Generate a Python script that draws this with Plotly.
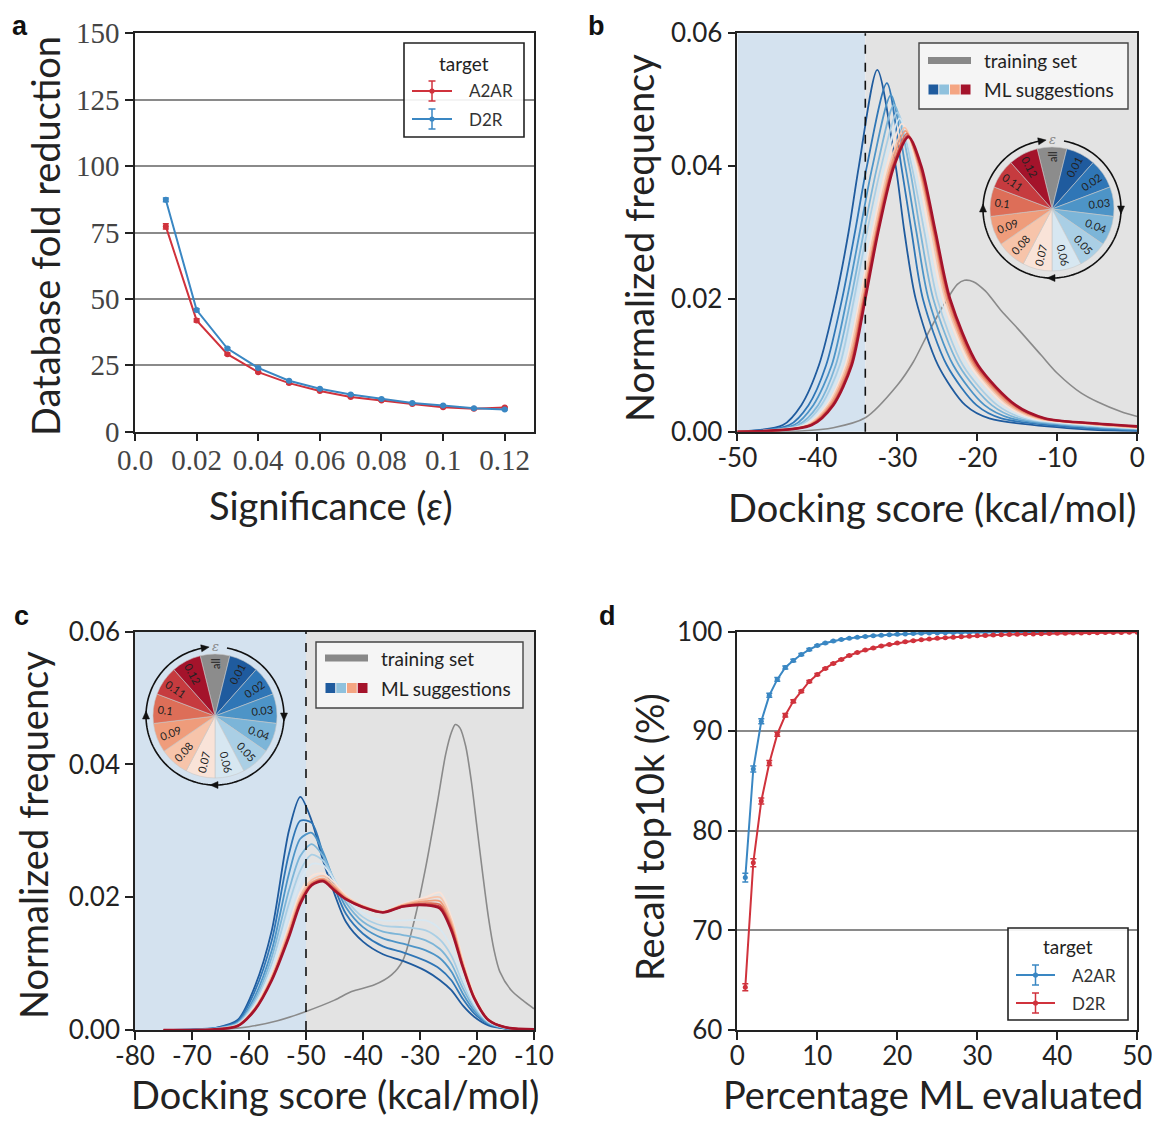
import numpy as np
import plotly.graph_objects as go

W, H = 1152, 1122

# ---------------- Panel a data ----------------
significance = [0.01, 0.02, 0.03, 0.04, 0.05, 0.06, 0.07, 0.08, 0.09, 0.10, 0.11, 0.12]
a2ar_fold = [77.3, 41.9, 29.2, 22.4, 18.3, 15.3, 13.1, 11.7, 10.4, 9.2, 8.6, 9.1]
a2ar_fold_err = [1.0, 0.6, 0.4, 0.3, 0.3, 0.2, 0.2, 0.2, 0.2, 0.2, 0.2, 0.2]
d2r_fold = [87.3, 45.8, 31.3, 24.0, 19.2, 16.2, 14.0, 12.3, 10.8, 9.9, 8.8, 8.4]
d2r_fold_err = [0.7, 0.5, 0.4, 0.3, 0.3, 0.2, 0.2, 0.2, 0.2, 0.2, 0.2, 0.2]
sig_tickvals = [0, 0.02, 0.04, 0.06, 0.08, 0.10, 0.12]
sig_ticktext = ["0.0", "0.02", "0.04", "0.06", "0.08", "0.1", "0.12"]
fold_ticks = [0, 25, 50, 75, 100, 125, 150]

# ---------------- Panel b data (A2AR score distributions) ----------------
eps_labels = ["0.01", "0.02", "0.03", "0.04", "0.05", "0.06",
              "0.07", "0.08", "0.09", "0.1", "0.11", "0.12"]
eps_colors = ["#1f5b9e", "#2f76b6", "#4d94c7", "#7cb5d8", "#aacfe5", "#d7e7f1",
              "#f9e3d8", "#f7c4aa", "#ef9c7b", "#dd6e58", "#c63b3f", "#a4132b"]
# x positions where each curve crosses fixed frequency levels (left flank / right flank)
b_left_001 = [-44.3, -43.5, -42.9, -42.4, -42.0, -41.7, -41.4, -41.2, -41.0, -40.9, -40.8, -40.7]
b_left_004 = [-42.0, -41.1, -40.5, -39.9, -39.5, -39.1, -38.8, -38.6, -38.4, -38.2, -38.1, -38.0]
b_left_010 = [-39.8, -38.9, -38.2, -37.7, -37.2, -36.9, -36.5, -36.3, -36.1, -35.9, -35.8, -35.7]
b_left_020 = [-37.7, -36.9, -36.3, -35.8, -35.4, -35.0, -34.7, -34.5, -34.3, -34.2, -34.1, -34.0]
b_left_030 = [-36.1, -35.3, -34.7, -34.2, -33.8, -33.4, -33.1, -32.9, -32.7, -32.6, -32.5, -32.4]
b_left_040 = [-34.8, -33.8, -33.1, -32.5, -32.0, -31.6, -31.3, -31.0, -30.8, -30.6, -30.5, -30.4]
b_peak_x = [-32.5, -31.3, -30.8, -30.4, -30.0, -29.7, -29.4, -29.1, -29.0, -28.8, -28.7, -28.6]
b_peak_y = [0.0545, 0.0525, 0.0507, 0.0492, 0.0481, 0.0472, 0.0464, 0.0458, 0.0453, 0.0449, 0.0446, 0.0444]
b_right_040 = [-30.2, -29.5, -29.0, -28.5, -28.2, -27.9, -27.6, -27.4, -27.3, -27.2, -27.1, -27.0]
b_right_030 = [-29.1, -28.2, -27.6, -27.1, -26.6, -26.3, -26.0, -25.7, -25.5, -25.4, -25.3, -25.2]
b_right_020 = [-27.7, -26.8, -26.1, -25.5, -25.0, -24.6, -24.3, -24.0, -23.8, -23.6, -23.5, -23.4]
b_right_010 = [-24.9, -23.8, -23.0, -22.3, -21.8, -21.3, -20.9, -20.6, -20.4, -20.2, -20.0, -19.9]
b_right_004 = [-21.5, -20.1, -19.1, -18.2, -17.5, -17.0, -16.5, -16.1, -15.8, -15.5, -15.3, -15.2]
b_right_002 = [-18.5, -17.0, -15.8, -14.9, -14.1, -13.5, -12.9, -12.5, -12.1, -11.9, -11.6, -11.5]
b_tail_m6 = [0.0003, 0.0005, 0.0007, 0.0008, 0.0009, 0.0010, 0.0011, 0.0012, 0.0012, 0.0013, 0.0013, 0.0013]
b_tail_0 = [0.0001, 0.0002, 0.0003, 0.0004, 0.0005, 0.0005, 0.0006, 0.0006, 0.0007, 0.0007, 0.0008, 0.0008]
b_train_x = [-50, -46, -42, -38, -34, -30, -28, -26, -24, -22.5, -21.6, -20.5, -19, -17, -15, -12, -10, -7, -5, -2, 0]
b_train_y = [0, 0, 0.0001, 0.0006, 0.0021, 0.0070, 0.0105, 0.0152, 0.0195, 0.0222, 0.0228, 0.0226,
             0.0212, 0.0182, 0.0156, 0.0115, 0.0088, 0.0058, 0.0045, 0.0030, 0.0023]
b_threshold = -34

# ---------------- Panel c data (D2R score distributions) ----------------
c_x = [-75, -66, -62, -59, -56, -53, -51, -49, -47, -45, -43, -40, -36.5, -33, -29, -26.5,
       -24.5, -22.5, -20.5, -18, -15, -10]
c_eps_001 = [0, 0.0003, 0.0015, 0.0065, 0.0150, 0.0300, 0.0351, 0.0315, 0.0255, 0.0205, 0.0163, 0.0133, 0.0114, 0.0104, 0.0089, 0.0075, 0.0060, 0.0037, 0.0020, 0.0007, 0.0002, 0.0]
c_eps_002 = [0, 0.0003, 0.0013, 0.0058, 0.0135, 0.0265, 0.0315, 0.0312, 0.0265, 0.0215, 0.0175, 0.0145, 0.0126, 0.0117, 0.0104, 0.0092, 0.0075, 0.0047, 0.0025, 0.0009, 0.0002, 0.0]
c_eps_003 = [0, 0.0002, 0.0011, 0.0050, 0.0120, 0.0235, 0.0288, 0.0297, 0.0268, 0.0222, 0.0185, 0.0155, 0.0138, 0.0130, 0.0120, 0.0108, 0.0088, 0.0055, 0.0029, 0.0010, 0.0003, 0.0]
c_eps_004 = [0, 0.0002, 0.0010, 0.0045, 0.0110, 0.0210, 0.0262, 0.0280, 0.0262, 0.0225, 0.0192, 0.0163, 0.0148, 0.0143, 0.0135, 0.0122, 0.0100, 0.0063, 0.0033, 0.0011, 0.0003, 0.0]
c_eps_005 = [0, 0.0002, 0.0009, 0.0041, 0.0100, 0.0190, 0.0240, 0.0264, 0.0255, 0.0226, 0.0197, 0.0170, 0.0157, 0.0155, 0.0150, 0.0136, 0.0112, 0.0071, 0.0037, 0.0012, 0.0003, 0.0]
c_eps_006 = [0, 0.0001, 0.0008, 0.0037, 0.0092, 0.0175, 0.0225, 0.0250, 0.0248, 0.0225, 0.0200, 0.0176, 0.0165, 0.0165, 0.0165, 0.0152, 0.0124, 0.0078, 0.0040, 0.0013, 0.0004, 0.0]
c_eps_007 = [0, 0.0001, 0.0007, 0.0034, 0.0084, 0.0158, 0.0208, 0.0232, 0.0236, 0.0222, 0.0203, 0.0186, 0.0178, 0.0190, 0.0200, 0.0207, 0.0170, 0.0107, 0.0053, 0.0016, 0.0004, 0.0001]
c_eps_008 = [0, 0.0001, 0.0007, 0.0033, 0.0081, 0.0152, 0.0202, 0.0226, 0.0232, 0.0218, 0.0201, 0.0187, 0.0178, 0.0189, 0.0197, 0.0200, 0.0165, 0.0103, 0.0051, 0.0016, 0.0004, 0.0001]
c_eps_009 = [0, 0.0001, 0.0007, 0.0032, 0.0079, 0.0147, 0.0197, 0.0222, 0.0228, 0.0215, 0.0199, 0.0186, 0.0178, 0.0188, 0.0194, 0.0194, 0.0160, 0.0100, 0.0050, 0.0016, 0.0004, 0.0001]
c_eps_010 = [0, 0.0001, 0.0006, 0.0031, 0.0077, 0.0144, 0.0194, 0.0220, 0.0226, 0.0213, 0.0198, 0.0186, 0.0178, 0.0187, 0.0191, 0.0189, 0.0156, 0.0098, 0.0049, 0.0015, 0.0004, 0.0001]
c_eps_011 = [0, 0.0001, 0.0006, 0.0030, 0.0076, 0.0142, 0.0192, 0.0219, 0.0225, 0.0211, 0.0197, 0.0185, 0.0177, 0.0186, 0.0189, 0.0186, 0.0153, 0.0096, 0.0048, 0.0015, 0.0004, 0.0001]
c_eps_012 = [0, 0.0001, 0.0006, 0.0030, 0.0075, 0.0140, 0.0190, 0.0218, 0.0224, 0.0210, 0.0197, 0.0185, 0.0177, 0.0186, 0.0188, 0.0183, 0.0150, 0.0095, 0.0048, 0.0015, 0.0004, 0.0001]
c_train_x = [-75, -65, -60, -55, -50, -45, -42, -38, -35, -33, -31, -29, -27, -25.5, -24.5, -23.8,
             -23, -22, -21, -20, -19, -18, -17, -16, -14, -12, -10]
c_train_y = [0, 0.0001, 0.0005, 0.0014, 0.0028, 0.0045, 0.0058, 0.0068, 0.0083, 0.0105, 0.0165,
             0.0245, 0.0340, 0.0415, 0.0448, 0.0460, 0.0455, 0.0428, 0.0375, 0.0305, 0.0235,
             0.0170, 0.0120, 0.0088, 0.0060, 0.0045, 0.0032]
c_threshold = -50

# ---------------- Panel d data ----------------
pct_evaluated = [1, 2, 3, 4, 5, 6, 7, 8, 9, 10, 11, 12, 13, 14, 15, 16, 17, 18, 19, 20, 21, 22, 23, 24, 25,
                 26, 27, 28, 29, 30, 31, 32, 33, 34, 35, 36, 37, 38, 39, 40, 41, 42, 43, 44, 45, 46, 47, 48, 49, 50]
a2ar_recall = [75.3, 86.2, 91.0, 93.6, 95.2, 96.4, 97.1, 97.7, 98.2, 98.6,
               98.85, 99.05, 99.2, 99.33, 99.43, 99.51, 99.58, 99.64, 99.69, 99.73,
               99.77, 99.8, 99.83, 99.85, 99.87, 99.89, 99.9, 99.91, 99.92, 99.93,
               99.94, 99.94, 99.95, 99.95, 99.96, 99.96, 99.96, 99.97, 99.97, 99.97,
               99.97, 99.98, 99.98, 99.98, 99.98, 99.98, 99.99, 99.99, 99.99, 99.99]
a2ar_recall_err = [0.45, 0.3, 0.25, 0.2, 0.18, 0.15, 0.12, 0.1, 0.1, 0.08,
                   0.06, 0.06, 0.06, 0.06, 0.06, 0.05, 0.05, 0.05, 0.05, 0.05,
                   0.04, 0.04, 0.04, 0.04, 0.04, 0.03, 0.03, 0.03, 0.03, 0.03,
                   0.03, 0.03, 0.02, 0.02, 0.02, 0.02, 0.02, 0.02, 0.02, 0.02,
                   0.02, 0.01, 0.01, 0.01, 0.01, 0.01, 0.01, 0.01, 0.01, 0.01]
d2r_recall = [64.3, 76.8, 83.0, 86.8, 89.7, 91.6, 93.0, 94.0, 95.0, 95.7,
              96.3, 96.8, 97.2, 97.6, 97.9, 98.15, 98.35, 98.55, 98.7, 98.85,
              98.97, 99.08, 99.17, 99.25, 99.32, 99.38, 99.44, 99.49, 99.54, 99.58,
              99.62, 99.65, 99.68, 99.71, 99.73, 99.75, 99.77, 99.79, 99.81, 99.83,
              99.84, 99.86, 99.87, 99.88, 99.89, 99.9, 99.91, 99.92, 99.93, 99.94]
d2r_recall_err = [0.35, 0.4, 0.3, 0.25, 0.2, 0.18, 0.15, 0.12, 0.1, 0.1,
                  0.08, 0.08, 0.07, 0.07, 0.06, 0.06, 0.06, 0.05, 0.05, 0.05,
                  0.05, 0.04, 0.04, 0.04, 0.04, 0.04, 0.03, 0.03, 0.03, 0.03,
                  0.03, 0.03, 0.03, 0.02, 0.02, 0.02, 0.02, 0.02, 0.02, 0.02,
                  0.02, 0.02, 0.02, 0.01, 0.01, 0.01, 0.01, 0.01, 0.01, 0.01]

wheel_labels = ["all"] + eps_labels
wheel_colors = ["#8c8c8c"] + eps_colors

RED = "#d0323c"
BLUE = "#3a87c3"
SANS = "Lato"
SERIF = "Liberation Serif"
TXT = "#222222"


def fx(px):
    return px / W


def fy(py):
    return 1 - py / H


fig = go.Figure()

# ---- panel a traces
fig.add_trace(go.Scatter(x=significance, y=a2ar_fold, mode="lines+markers", name="A2AR",
                         line=dict(color=RED, width=2), marker=dict(color=RED, size=6),
                         error_y=dict(type="data", array=a2ar_fold_err, color=RED, thickness=1.5, width=3),
                         xaxis="x", yaxis="y", showlegend=False))
fig.add_trace(go.Scatter(x=significance, y=d2r_fold, mode="lines+markers", name="D2R",
                         line=dict(color=BLUE, width=2), marker=dict(color=BLUE, size=6),
                         error_y=dict(type="data", array=d2r_fold_err, color=BLUE, thickness=1.5, width=3),
                         xaxis="x", yaxis="y", showlegend=False))

# ---- panel b traces
fig.add_trace(go.Scatter(x=b_train_x, y=b_train_y, mode="lines",
                         line=dict(color="#8a8a8a", width=1.6, shape="spline", smoothing=0.8),
                         xaxis="x2", yaxis="y2", showlegend=False, name="training set"))
for i in range(12):
    xs = [-50, b_left_001[i], b_left_004[i], b_left_010[i], b_left_020[i], b_left_030[i], b_left_040[i],
          b_peak_x[i], b_right_040[i], b_right_030[i], b_right_020[i], b_right_010[i], b_right_004[i],
          b_right_002[i], -6, 0]
    ys = [0, 0.001, 0.004, 0.01, 0.02, 0.03, 0.04, b_peak_y[i], 0.04, 0.03, 0.02, 0.01, 0.004, 0.002,
          b_tail_m6[i], b_tail_0[i]]
    fig.add_trace(go.Scatter(x=xs, y=ys, mode="lines",
                             line=dict(color=eps_colors[i], width=2.6 if i == 11 else 1.8, shape="spline", smoothing=0.8),
                             xaxis="x2", yaxis="y2", showlegend=False, name=eps_labels[i]))

# ---- panel c traces
c_curves = [c_eps_001, c_eps_002, c_eps_003, c_eps_004, c_eps_005, c_eps_006,
            c_eps_007, c_eps_008, c_eps_009, c_eps_010, c_eps_011, c_eps_012]
fig.add_trace(go.Scatter(x=c_train_x, y=c_train_y, mode="lines",
                         line=dict(color="#8a8a8a", width=1.6, shape="spline", smoothing=0.8),
                         xaxis="x3", yaxis="y3", showlegend=False, name="training set"))
for i in range(12):
    fig.add_trace(go.Scatter(x=c_x, y=c_curves[i], mode="lines",
                             line=dict(color=eps_colors[i], width=2.6 if i == 11 else 1.8, shape="spline", smoothing=0.8),
                             xaxis="x3", yaxis="y3", showlegend=False, name=eps_labels[i]))

# ---- panel d traces
fig.add_trace(go.Scatter(x=pct_evaluated, y=a2ar_recall, mode="lines+markers", name="A2AR",
                         line=dict(color=BLUE, width=2), marker=dict(color=BLUE, size=5),
                         error_y=dict(type="data", array=a2ar_recall_err, color=BLUE, thickness=1.5, width=3),
                         xaxis="x4", yaxis="y4", showlegend=False))
fig.add_trace(go.Scatter(x=pct_evaluated, y=d2r_recall, mode="lines+markers", name="D2R",
                         line=dict(color=RED, width=2), marker=dict(color=RED, size=5),
                         error_y=dict(type="data", array=d2r_recall_err, color=RED, thickness=1.5, width=3),
                         xaxis="x4", yaxis="y4", showlegend=False))

# ---- colour wheels
WHEEL_R = 62
wheel_centers = [(1052, 209), (215, 716)]
for (cx, cy) in wheel_centers:
    fig.add_trace(go.Pie(labels=wheel_labels, values=[1] * 13, sort=False, direction="clockwise",
                         rotation=-360 / 26, marker=dict(colors=wheel_colors, line=dict(color="#c8c8c8", width=0.6)),
                         textinfo="label", textposition="inside", insidetextorientation="radial",
                         textfont=dict(size=11, color="#222", family=SANS), hoverinfo="skip",
                         showlegend=False,
                         domain=dict(x=[fx(cx - WHEEL_R), fx(cx + WHEEL_R)], y=[fy(cy + WHEEL_R), fy(cy - WHEEL_R)])))

# ---------------- layout ----------------
AX_X_L = [fx(135), fx(534)]
AX_X_R = [fx(737.3), fx(1137.3)]
AX_Y_T = [fy(431.7), fy(33.3)]
AX_Y_B = [fy(1030), fy(631.6)]

common = dict(showline=True, linecolor="#222", linewidth=1.5, mirror=True, ticks="outside",
              ticklen=8, tickwidth=1.5, tickcolor="#222", zeroline=False, automargin=False)
xcommon = dict(ticklabelstandoff=-6, ticklabeloverflow="allow", **common)

sans_tick = dict(family=SANS, size=26, color=TXT)
serif_tick = dict(family=SERIF, size=29, color="#444")

layout = dict(
    template="none",
    width=W, height=H, margin=dict(l=0, r=0, t=0, b=0, pad=0, autoexpand=False), autosize=False,
    paper_bgcolor="white", plot_bgcolor="white", showlegend=False,
    xaxis=dict(domain=AX_X_L, anchor="y", range=[0, 0.1295], tickvals=sig_tickvals, ticktext=sig_ticktext,
               showgrid=False, tickfont=serif_tick, **xcommon),
    yaxis=dict(domain=AX_Y_T, anchor="x", range=[0, 150], tickvals=fold_ticks, showgrid=True,
               gridcolor="#8a8a8a", gridwidth=2, tickfont=serif_tick, **common),
    xaxis2=dict(domain=AX_X_R, anchor="y2", range=[-50, 0], tickvals=[-50, -40, -30, -20, -10, 0],
                ticktext=["-50", "-40", "-30", "-20", "-10", "0"], showgrid=False, tickfont=sans_tick, **xcommon),
    yaxis2=dict(domain=AX_Y_T, anchor="x2", range=[0, 0.06], tickvals=[0, 0.02, 0.04, 0.06],
                ticktext=["0.00", "0.02", "0.04", "0.06"], showgrid=False, tickfont=sans_tick, **common),
    xaxis3=dict(domain=AX_X_L, anchor="y3", range=[-80, -10], tickvals=[-80, -70, -60, -50, -40, -30, -20, -10],
                ticktext=["-80", "-70", "-60", "-50", "-40", "-30", "-20", "-10"], showgrid=False,
                tickfont=sans_tick, **xcommon),
    yaxis3=dict(domain=AX_Y_B, anchor="x3", range=[0, 0.06], tickvals=[0, 0.02, 0.04, 0.06],
                ticktext=["0.00", "0.02", "0.04", "0.06"], showgrid=False, tickfont=sans_tick, **common),
    xaxis4=dict(domain=AX_X_R, anchor="y4", range=[0, 50], tickvals=[0, 10, 20, 30, 40, 50],
                showgrid=False, tickfont=sans_tick, **xcommon),
    yaxis4=dict(domain=AX_Y_B, anchor="x4", range=[60, 100], tickvals=[60, 70, 80, 90, 100], showgrid=True,
                gridcolor="#8a8a8a", gridwidth=2, tickfont=sans_tick, **common),
)

shapes = []
annotations = []

# background regions + threshold lines (b, c)
for xr, yr, lo, thr, hi in [("x2", "y2", -50, b_threshold, 0), ("x3", "y3", -80, c_threshold, -10)]:
    shapes.append(dict(type="rect", xref=xr, yref=yr + " domain", x0=lo, x1=thr, y0=0, y1=1,
                       fillcolor="#d4e2ef", line=dict(width=0), layer="below"))
    shapes.append(dict(type="rect", xref=xr, yref=yr + " domain", x0=thr, x1=hi, y0=0, y1=1,
                       fillcolor="#e3e3e3", line=dict(width=0), layer="below"))
    shapes.append(dict(type="line", xref=xr, yref=yr + " domain", x0=thr, x1=thr, y0=0, y1=1,
                       line=dict(color="#111", width=1.6, dash="dash"), layer="above"))


def text(px, py, s, size, angle=0, xanchor="center", family=SANS, color=TXT, bold=False):
    if bold:
        s = "<b>" + s + "</b>"
    annotations.append(dict(x=fx(px), y=fy(py), xref="paper", yref="paper", text=s, showarrow=False,
                            xanchor=xanchor, yanchor="middle", textangle=angle,
                            font=dict(family=family, size=size, color=color)))


def rect(x0, y0, x1, y1, fill, line_color, lw):
    shapes.append(dict(type="rect", xref="paper", yref="paper", x0=fx(x0), x1=fx(x1), y0=fy(y1), y1=fy(y0),
                       fillcolor=fill, line=dict(color=line_color, width=lw), layer="above"))


def seg(x0, y0, x1, y1, color, lw):
    shapes.append(dict(type="line", xref="paper", yref="paper", x0=fx(x0), x1=fx(x1), y0=fy(y0), y1=fy(y1),
                       line=dict(color=color, width=lw), layer="above"))


def dot(cx, cy, r, color):
    shapes.append(dict(type="circle", xref="paper", yref="paper", x0=fx(cx - r), x1=fx(cx + r),
                       y0=fy(cy + r), y1=fy(cy - r), fillcolor=color, line=dict(color=color, width=0), layer="above"))


def errbar_legend(box, title_y, rows, line_x0, line_x1, text_x):
    x0, y0, x1, y1 = box
    rect(x0, y0, x1, y1, "rgba(255,255,255,0.9)", "#222", 1.6)
    text((x0 + x1) / 2, title_y, "target", 19)
    for (ry, color, label) in rows:
        mx = (line_x0 + line_x1) / 2
        seg(line_x0, ry, line_x1, ry, color, 2)
        seg(mx, ry - 10, mx, ry + 10, color, 1.5)
        seg(mx - 3.5, ry - 10, mx + 3.5, ry - 10, color, 1.5)
        seg(mx - 3.5, ry + 10, mx + 3.5, ry + 10, color, 1.5)
        dot(mx, ry, 2.6, color)
        text(text_x, ry, label, 17, xanchor="left", color="#333")


def dist_legend(box, row1, row2, line_x0, line_x1, text_x):
    x0, y0, x1, y1 = box
    rect(x0, y0, x1, y1, "rgba(248,248,248,0.85)", "#444", 1.4)
    seg(line_x0, row1, line_x1, row1, "#888888", 7)
    text(text_x, row1, "training set", 19, xanchor="left")
    sw = ["#1f5b9e", "#8fc1dd", "#f4a582", "#a4132b"]
    step = (line_x1 - line_x0) / 4
    for k, c in enumerate(sw):
        rect(line_x0 + k * step + 0.5, row2 - 5, line_x0 + (k + 1) * step - 0.5, row2 + 5, c, c, 0)
    text(text_x, row2, "ML suggestions", 19, xanchor="left")


errbar_legend((404, 43, 524, 137), 63, [(91, RED, "A2AR"), (119, BLUE, "D2R")], 412, 452, 467)
errbar_legend((1008, 928, 1128, 1020), 946, [(975, BLUE, "A2AR"), (1003, RED, "D2R")], 1016, 1055, 1070)
dist_legend((919, 43, 1128, 109), 60.5, 89.5, 928, 971, 982)
dist_legend((316, 642, 523, 708), 658, 688, 325, 368, 379)

# colour wheel rings with arrows
RING_R = 69
for (cx, cy) in wheel_centers:
    ax, ay = fx(cx), fy(cy)
    th = np.deg2rad(np.arange(10, 352, 2))
    path = "M " + " L ".join(f"{RING_R * np.sin(t):.2f},{RING_R * np.cos(t):.2f}" for t in th)
    shapes.append(dict(type="path", xref="paper", yref="paper", xsizemode="pixel", ysizemode="pixel",
                       xanchor=ax, yanchor=ay, path=path, line=dict(color="#111", width=1.6), layer="above"))
    for deg in [90, 180, 270, 351]:
        t = np.deg2rad(deg)
        px, py = RING_R * np.sin(t), RING_R * np.cos(t)
        tx, ty = np.cos(t), -np.sin(t)
        nx, ny = np.sin(t), np.cos(t)
        p1 = (px + 5 * tx, py + 5 * ty)
        p2 = (px - 3 * tx + 3.5 * nx, py - 3 * ty + 3.5 * ny)
        p3 = (px - 3 * tx - 3.5 * nx, py - 3 * ty - 3.5 * ny)
        tri = f"M {p1[0]:.2f},{p1[1]:.2f} L {p2[0]:.2f},{p2[1]:.2f} L {p3[0]:.2f},{p3[1]:.2f} Z"
        shapes.append(dict(type="path", xref="paper", yref="paper", xsizemode="pixel", ysizemode="pixel",
                           xanchor=ax, yanchor=ay, path=tri, fillcolor="#111", line=dict(color="#111", width=0.5),
                           layer="above"))
    text(cx, cy - RING_R - 1, "<i>ε</i>", 13, family="DejaVu Serif", color="#888")

# axis titles
TS = 38
text(45, 236, "Database fold reduction", TS, angle=-90)
text(331, 505, "Significance (<i>ε</i>)", TS)
text(639, 238, "Normalized frequency", TS, angle=-90)
text(932, 507, "Docking score (kcal/mol)", TS)
text(33, 835, "Normalized frequency", TS, angle=-90)
text(335, 1094, "Docking score (kcal/mol)", TS)
text(649, 837, "Recall top10k (%)", TS, angle=-90)
text(933, 1094, "Percentage ML evaluated", TS)

# panel letters
for (px, py, s) in [(20, 26, "a"), (596, 26, "b"), (21, 616, "c"), (607, 616, "d")]:
    text(px, py, s, 27, family="Liberation Sans", color="#111", bold=True)

layout["shapes"] = shapes
layout["annotations"] = annotations
fig.update_layout(**layout)

fig.write_html("out.html")
